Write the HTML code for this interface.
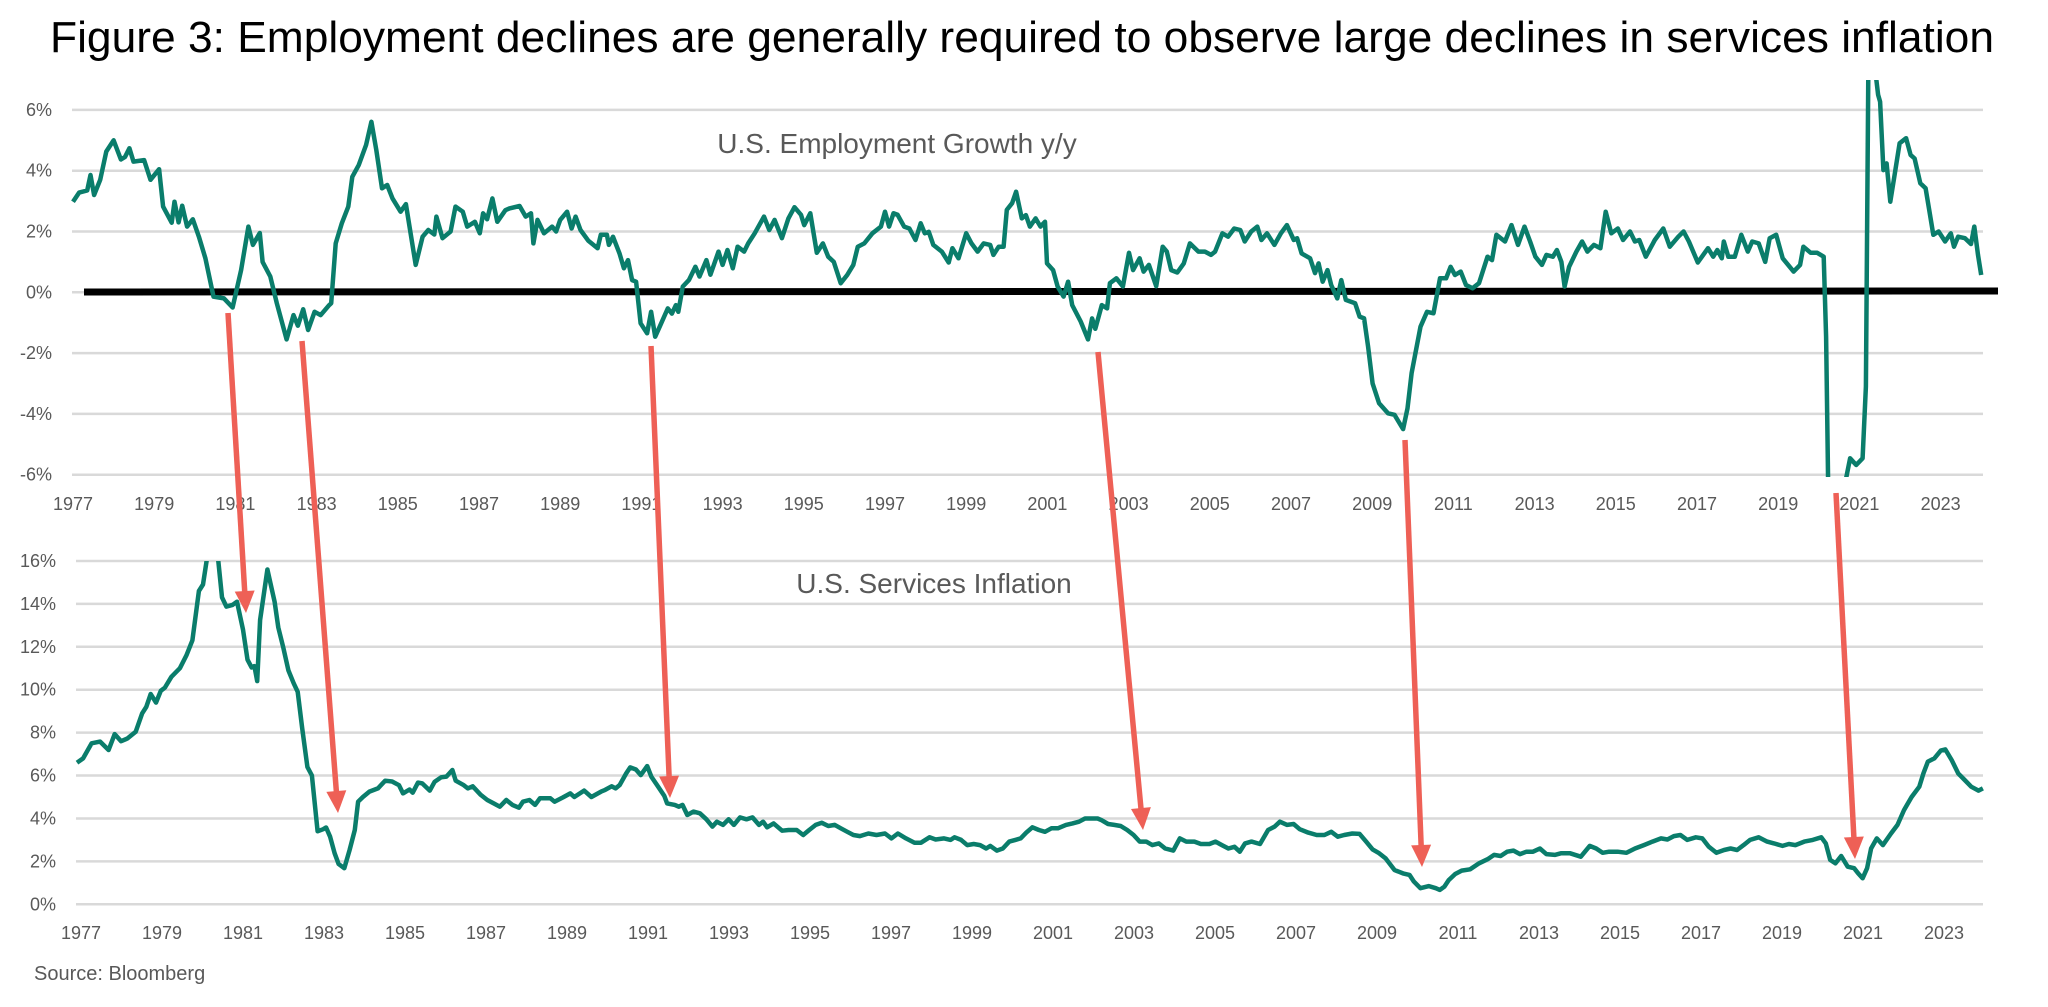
<!DOCTYPE html>
<html><head><meta charset="utf-8"><style>
html,body{margin:0;padding:0;background:#fff;}
svg{display:block;}
</style></head><body>
<svg id="s" width="2048" height="1007" viewBox="0 0 2048 1007" xmlns="http://www.w3.org/2000/svg">
<defs>
<clipPath id="ct"><rect x="60" y="80" width="1940" height="397"/></clipPath>
<clipPath id="cb"><rect x="60" y="561" width="1940" height="350"/></clipPath>
</defs>
<text x="50" y="52" font-family="Liberation Sans, sans-serif" font-size="44" fill="#000" textLength="1944" lengthAdjust="spacingAndGlyphs">Figure 3: Employment declines are generally required to observe large declines in services inflation</text>
<g id="grid" stroke="#d9d9d9" stroke-width="2.5"></g>
<g id="lbl" font-family="Liberation Sans, sans-serif" font-size="18" fill="#595959"></g>
<text x="897" y="153" text-anchor="middle" font-family="Liberation Sans, sans-serif" font-size="28" fill="#595959">U.S. Employment Growth y/y</text>
<text x="934" y="593" text-anchor="middle" font-family="Liberation Sans, sans-serif" font-size="28" fill="#595959">U.S. Services Inflation</text>
<text x="34" y="980" font-family="Liberation Sans, sans-serif" font-size="20" fill="#595959">Source: Bloomberg</text>
<line x1="84" y1="292" x2="1998" y2="291" stroke="#000" stroke-width="7"/>
<path id="pt" clip-path="url(#ct)" fill="none" stroke="#0a7d6b" stroke-width="4.5" stroke-linejoin="round"/>
<path id="pb" clip-path="url(#cb)" fill="none" stroke="#0a7d6b" stroke-width="4.5" stroke-linejoin="round"/>
<g id="arr"></g>
</svg>
<script>
var NS="http://www.w3.org/2000/svg";
function el(t,a,p,txt){var e=document.createElementNS(NS,t);for(var k in a)e.setAttribute(k,a[k]);if(txt)e.textContent=txt;document.getElementById(p).appendChild(e);return e;}
function XT(y){return 73+(y-1977)*40.6;}
function XB(y){return 77+(y-1977)*40.5;}
function YT(v){return 292.3-v*30.4;}
function YB(v){return 904.3-v*21.46;}
for(var v=-6;v<=6;v+=2){var y=YT(v);el('line',{x1:72,x2:1983,y1:y,y2:y},'grid');el('text',{x:52,y:y+6,'text-anchor':'end'},'lbl',v+'%');}
for(var v=0;v<=16;v+=2){var y=YB(v);el('line',{x1:76,x2:1983,y1:y,y2:y},'grid');el('text',{x:56,y:y+6,'text-anchor':'end'},'lbl',v+'%');}
for(var yr=1977;yr<=2023;yr+=2){el('text',{x:XT(yr),y:510,'text-anchor':'middle'},'lbl',''+yr);el('text',{x:XB(yr)+4,y:939,'text-anchor':'middle'},'lbl',''+yr);}
var E=[1977.0,2.98,1977.15,3.28,1977.35,3.35,1977.43,3.86,1977.52,3.2,1977.67,3.7,1977.82,4.63,1978.0,5.0,1978.18,4.37,1978.28,4.45,1978.39,4.74,1978.49,4.3,1978.75,4.35,1978.91,3.7,1979.12,4.05,1979.22,2.82,1979.43,2.29,1979.5,2.98,1979.6,2.3,1979.69,2.85,1979.81,2.16,1979.95,2.4,1980.1,1.83,1980.26,1.12,1980.46,-0.14,1980.72,-0.2,1980.93,-0.5,1981.14,0.73,1981.32,2.16,1981.43,1.56,1981.6,1.95,1981.67,1.0,1981.86,0.52,1982.02,-0.36,1982.26,-1.55,1982.43,-0.75,1982.54,-1.1,1982.67,-0.56,1982.79,-1.24,1982.95,-0.64,1983.1,-0.75,1983.31,-0.42,1983.36,-0.36,1983.47,1.61,1983.62,2.27,1983.78,2.82,1983.88,3.8,1984.04,4.19,1984.22,4.85,1984.35,5.61,1984.47,4.68,1984.61,3.42,1984.74,3.53,1984.87,3.09,1985.07,2.65,1985.2,2.9,1985.44,0.9,1985.61,1.83,1985.75,2.05,1985.9,1.9,1985.95,2.49,1986.1,1.78,1986.3,2.0,1986.42,2.82,1986.6,2.65,1986.71,2.16,1986.9,2.32,1987.02,1.94,1987.1,2.6,1987.2,2.4,1987.33,3.09,1987.45,2.32,1987.65,2.7,1987.75,2.76,1988.0,2.84,1988.15,2.49,1988.28,2.6,1988.34,1.61,1988.44,2.38,1988.6,1.94,1988.8,2.16,1988.9,2.0,1989.0,2.38,1989.17,2.65,1989.28,2.1,1989.38,2.49,1989.5,2.05,1989.69,1.7,1989.92,1.45,1990.0,1.89,1990.15,1.89,1990.2,1.56,1990.3,1.83,1990.46,1.28,1990.57,0.79,1990.67,1.06,1990.77,0.4,1990.87,0.35,1990.98,-1.02,1991.14,-1.35,1991.24,-0.64,1991.34,-1.46,1991.45,-1.13,1991.65,-0.53,1991.75,-0.7,1991.85,-0.42,1991.91,-0.64,1992.02,0.19,1992.17,0.4,1992.33,0.84,1992.43,0.52,1992.6,1.06,1992.7,0.58,1992.9,1.34,1993.0,0.9,1993.12,1.39,1993.25,0.79,1993.37,1.5,1993.53,1.34,1993.63,1.61,1993.79,1.94,1994.02,2.49,1994.15,2.05,1994.28,2.38,1994.46,1.78,1994.62,2.43,1994.77,2.8,1994.93,2.55,1995.01,2.21,1995.16,2.6,1995.32,1.3,1995.47,1.61,1995.6,1.17,1995.74,1.0,1995.91,0.3,1996.07,0.57,1996.22,0.9,1996.33,1.5,1996.49,1.61,1996.69,1.94,1996.9,2.16,1997.0,2.65,1997.1,2.16,1997.21,2.6,1997.31,2.55,1997.47,2.16,1997.6,2.1,1997.75,1.72,1997.88,2.27,1997.98,1.94,1998.08,1.99,1998.19,1.56,1998.4,1.34,1998.57,0.98,1998.66,1.45,1998.81,1.12,1999.0,1.94,1999.13,1.61,1999.28,1.34,1999.43,1.61,1999.59,1.56,1999.67,1.23,1999.8,1.5,1999.92,1.5,2000.0,2.71,2000.13,2.93,2000.23,3.31,2000.31,2.8,2000.37,2.43,2000.47,2.54,2000.57,2.16,2000.71,2.43,2000.83,2.16,2000.94,2.32,2000.99,0.95,2001.14,0.73,2001.25,0.19,2001.4,-0.14,2001.51,0.35,2001.61,-0.42,2001.82,-0.96,2002.0,-1.55,2002.1,-0.86,2002.18,-1.2,2002.34,-0.42,2002.47,-0.53,2002.54,0.3,2002.7,0.46,2002.86,0.19,2003.01,1.3,2003.11,0.73,2003.27,1.12,2003.37,0.68,2003.5,0.9,2003.68,0.2,2003.84,1.5,2003.94,1.34,2004.05,0.73,2004.2,0.65,2004.36,0.95,2004.51,1.61,2004.72,1.34,2004.88,1.34,2005.03,1.23,2005.13,1.34,2005.31,1.94,2005.45,1.83,2005.6,2.1,2005.75,2.05,2005.86,1.67,2006.02,2.0,2006.17,2.16,2006.27,1.72,2006.41,1.94,2006.59,1.56,2006.75,1.94,2006.9,2.21,2007.07,1.72,2007.15,1.78,2007.26,1.28,2007.47,1.12,2007.59,0.63,2007.68,0.95,2007.78,0.35,2007.9,0.73,2007.99,0.24,2008.14,-0.2,2008.24,0.4,2008.35,-0.25,2008.45,-0.3,2008.58,-0.36,2008.69,-0.8,2008.8,-0.86,2008.9,-1.79,2009.01,-3.0,2009.17,-3.65,2009.39,-3.98,2009.55,-4.03,2009.76,-4.5,2009.87,-3.82,2009.97,-2.66,2010.19,-1.13,2010.35,-0.64,2010.51,-0.69,2010.67,0.46,2010.82,0.46,2010.93,0.84,2011.04,0.57,2011.18,0.68,2011.31,0.24,2011.47,0.13,2011.63,0.3,2011.84,1.17,2011.95,1.06,2012.06,1.89,2012.27,1.67,2012.43,2.21,2012.59,1.56,2012.75,2.16,2012.89,1.67,2013.02,1.17,2013.18,0.9,2013.29,1.23,2013.45,1.17,2013.55,1.39,2013.66,1.0,2013.74,0.19,2013.85,0.84,2014.03,1.34,2014.17,1.67,2014.3,1.34,2014.46,1.56,2014.62,1.45,2014.75,2.65,2014.89,1.94,2015.05,2.1,2015.18,1.72,2015.35,2.0,2015.47,1.67,2015.58,1.72,2015.74,1.17,2015.96,1.72,2016.17,2.1,2016.33,1.5,2016.54,1.83,2016.67,2.0,2016.8,1.67,2017.02,0.98,2017.27,1.45,2017.4,1.17,2017.5,1.39,2017.61,1.12,2017.66,1.67,2017.77,1.17,2017.93,1.17,2018.09,1.89,2018.25,1.34,2018.36,1.67,2018.52,1.61,2018.68,1.0,2018.79,1.78,2018.95,1.89,2019.11,1.12,2019.38,0.68,2019.54,0.9,2019.62,1.5,2019.8,1.3,2019.96,1.3,2020.12,1.17,2020.18,-1.46,2020.23,-6.2,2020.3,-13.5,2020.6,-8,2020.66,-6.2,2020.77,-5.46,2020.92,-5.68,2021.08,-5.46,2021.16,-3.1,2021.22,7.2,2021.3,12,2021.4,7.2,2021.46,6.5,2021.51,6.27,2021.59,4.02,2021.67,4.24,2021.76,2.98,2021.86,3.8,2021.99,4.9,2022.15,5.07,2022.26,4.52,2022.36,4.4,2022.5,3.59,2022.63,3.42,2022.72,2.71,2022.82,1.89,2022.95,2.0,2023.11,1.67,2023.25,1.94,2023.33,1.5,2023.43,1.83,2023.6,1.78,2023.75,1.59,2023.83,2.16,2023.92,1.23,2024.0,0.57];
var S=[1977.0,6.6,1977.15,6.8,1977.36,7.5,1977.57,7.58,1977.78,7.19,1977.93,7.93,1978.09,7.6,1978.24,7.72,1978.45,8.04,1978.61,8.9,1978.71,9.2,1978.82,9.8,1978.95,9.4,1979.07,9.95,1979.17,10.1,1979.33,10.6,1979.54,11.0,1979.7,11.6,1979.85,12.3,1980.01,14.6,1980.11,14.9,1980.2,16.0,1980.3,17.5,1980.42,17.5,1980.49,16.0,1980.58,14.3,1980.69,13.87,1980.84,13.95,1980.95,14.1,1981.1,12.8,1981.21,11.4,1981.31,11.04,1981.38,11.1,1981.45,10.4,1981.52,13.25,1981.7,15.6,1981.88,14.1,1981.97,12.9,1982.09,12.0,1982.22,10.9,1982.35,10.3,1982.45,9.9,1982.56,8.2,1982.69,6.4,1982.8,6.0,1982.94,3.4,1983.08,3.5,1983.15,3.58,1983.25,3.15,1983.36,2.38,1983.46,1.88,1983.6,1.68,1983.73,2.53,1983.86,3.46,1983.94,4.78,1984.06,5.0,1984.22,5.25,1984.43,5.4,1984.61,5.76,1984.78,5.72,1984.95,5.55,1985.05,5.17,1985.21,5.35,1985.29,5.2,1985.42,5.67,1985.52,5.64,1985.71,5.3,1985.83,5.71,1985.99,5.92,1986.12,5.95,1986.27,6.26,1986.35,5.76,1986.55,5.55,1986.65,5.4,1986.77,5.5,1986.97,5.1,1987.13,4.86,1987.29,4.7,1987.44,4.55,1987.6,4.86,1987.75,4.63,1987.91,4.5,1988.01,4.78,1988.17,4.86,1988.31,4.63,1988.43,4.94,1988.69,4.94,1988.79,4.78,1989.0,4.98,1989.18,5.17,1989.28,5.0,1989.52,5.3,1989.7,5.0,1989.94,5.25,1990.04,5.33,1990.2,5.5,1990.3,5.4,1990.4,5.56,1990.56,6.1,1990.66,6.38,1990.8,6.28,1990.92,6.02,1991.08,6.44,1991.18,5.95,1991.32,5.56,1991.5,5.05,1991.57,4.7,1991.76,4.63,1991.86,4.55,1991.95,4.63,1992.07,4.16,1992.22,4.32,1992.38,4.24,1992.54,3.96,1992.69,3.62,1992.8,3.85,1992.95,3.7,1993.09,3.96,1993.22,3.7,1993.37,4.05,1993.53,3.96,1993.68,4.05,1993.84,3.7,1993.94,3.85,1994.04,3.59,1994.2,3.77,1994.41,3.43,1994.57,3.46,1994.77,3.46,1994.93,3.23,1995.08,3.46,1995.24,3.7,1995.39,3.8,1995.55,3.65,1995.71,3.7,1995.86,3.54,1996.02,3.38,1996.17,3.23,1996.33,3.18,1996.54,3.3,1996.74,3.23,1996.95,3.3,1997.11,3.07,1997.27,3.3,1997.47,3.07,1997.68,2.87,1997.84,2.87,1998.05,3.12,1998.2,3.02,1998.41,3.07,1998.57,3.0,1998.67,3.12,1998.83,3.0,1998.98,2.76,1999.14,2.81,1999.3,2.76,1999.45,2.6,1999.55,2.72,1999.71,2.5,1999.86,2.6,2000.02,2.92,2000.17,3.0,2000.3,3.07,2000.44,3.34,2000.59,3.59,2000.75,3.46,2000.9,3.38,2001.06,3.54,2001.22,3.54,2001.42,3.7,2001.58,3.77,2001.74,3.85,2001.89,4.0,2002.2,4.0,2002.3,3.92,2002.46,3.74,2002.61,3.7,2002.77,3.65,2002.93,3.46,2003.09,3.23,2003.24,2.92,2003.4,2.92,2003.55,2.76,2003.71,2.84,2003.87,2.6,2004.07,2.5,2004.23,3.07,2004.39,2.92,2004.59,2.92,2004.75,2.81,2004.96,2.81,2005.11,2.92,2005.27,2.76,2005.43,2.6,2005.58,2.68,2005.71,2.45,2005.84,2.84,2006.0,2.92,2006.21,2.81,2006.41,3.46,2006.57,3.62,2006.7,3.85,2006.88,3.7,2007.04,3.74,2007.19,3.5,2007.4,3.34,2007.61,3.23,2007.8,3.23,2007.97,3.38,2008.13,3.15,2008.29,3.23,2008.49,3.3,2008.67,3.28,2008.83,2.92,2008.99,2.56,2009.15,2.38,2009.31,2.14,2009.53,1.6,2009.74,1.44,2009.9,1.37,2010.01,1.06,2010.17,0.75,2010.38,0.85,2010.55,0.75,2010.65,0.67,2010.76,0.82,2010.87,1.13,2011.03,1.41,2011.19,1.57,2011.4,1.63,2011.62,1.91,2011.83,2.1,2011.99,2.3,2012.15,2.25,2012.31,2.45,2012.47,2.5,2012.63,2.34,2012.79,2.45,2012.95,2.45,2013.12,2.6,2013.28,2.34,2013.49,2.3,2013.65,2.38,2013.86,2.38,2014.13,2.22,2014.35,2.72,2014.51,2.6,2014.67,2.4,2014.83,2.45,2015.04,2.45,2015.26,2.4,2015.47,2.6,2015.69,2.76,2015.9,2.92,2016.11,3.07,2016.27,3.02,2016.43,3.18,2016.59,3.23,2016.76,3.0,2016.97,3.12,2017.13,3.07,2017.29,2.69,2017.48,2.4,2017.67,2.53,2017.83,2.6,2017.99,2.53,2018.15,2.76,2018.31,3.0,2018.52,3.12,2018.73,2.92,2018.9,2.84,2019.11,2.72,2019.27,2.81,2019.43,2.76,2019.65,2.92,2019.86,3.0,2020.07,3.12,2020.18,2.84,2020.29,2.07,2020.42,1.91,2020.56,2.25,2020.72,1.75,2020.88,1.68,2020.98,1.44,2021.09,1.21,2021.2,1.68,2021.3,2.6,2021.44,3.07,2021.59,2.76,2021.79,3.3,2021.95,3.7,2022.11,4.39,2022.3,5.0,2022.49,5.48,2022.59,6.1,2022.7,6.65,2022.86,6.8,2023.02,7.16,2023.13,7.22,2023.29,6.72,2023.45,6.1,2023.61,5.79,2023.77,5.48,2023.95,5.3,2024.06,5.4];
function build(A,X,Y){var d='';for(var k=0;k<A.length;k+=2){d+=(k?'L':'M')+X(A[k]).toFixed(1)+' '+Y(A[k+1]).toFixed(1);}return d;}
document.getElementById('pt').setAttribute('d',build(E,XT,YT));
document.getElementById('pb').setAttribute('d',build(S,XB,YB));
var AR=[[228,313,246,613],[302,341,338,813],[651,346,670,798],[1098,352,1143,830],[1405,440,1422,867],[1836,493,1855,859]];
AR.forEach(function(a){var dx=a[2]-a[0],dy=a[3]-a[1],L=Math.sqrt(dx*dx+dy*dy),ux=dx/L,uy=dy/L,hl=22,hw=10;
 var bx=a[2]-ux*hl,by=a[3]-uy*hl;
 el('line',{x1:a[0],y1:a[1],x2:bx+ux*2,y2:by+uy*2,stroke:'#ee6056','stroke-width':5.5},'arr');
 el('polygon',{points:a[2]+','+a[3]+' '+(bx-uy*hw)+','+(by+ux*hw)+' '+(bx+uy*hw)+','+(by-ux*hw),fill:'#ee6056'},'arr');});
</script>
</body></html>
